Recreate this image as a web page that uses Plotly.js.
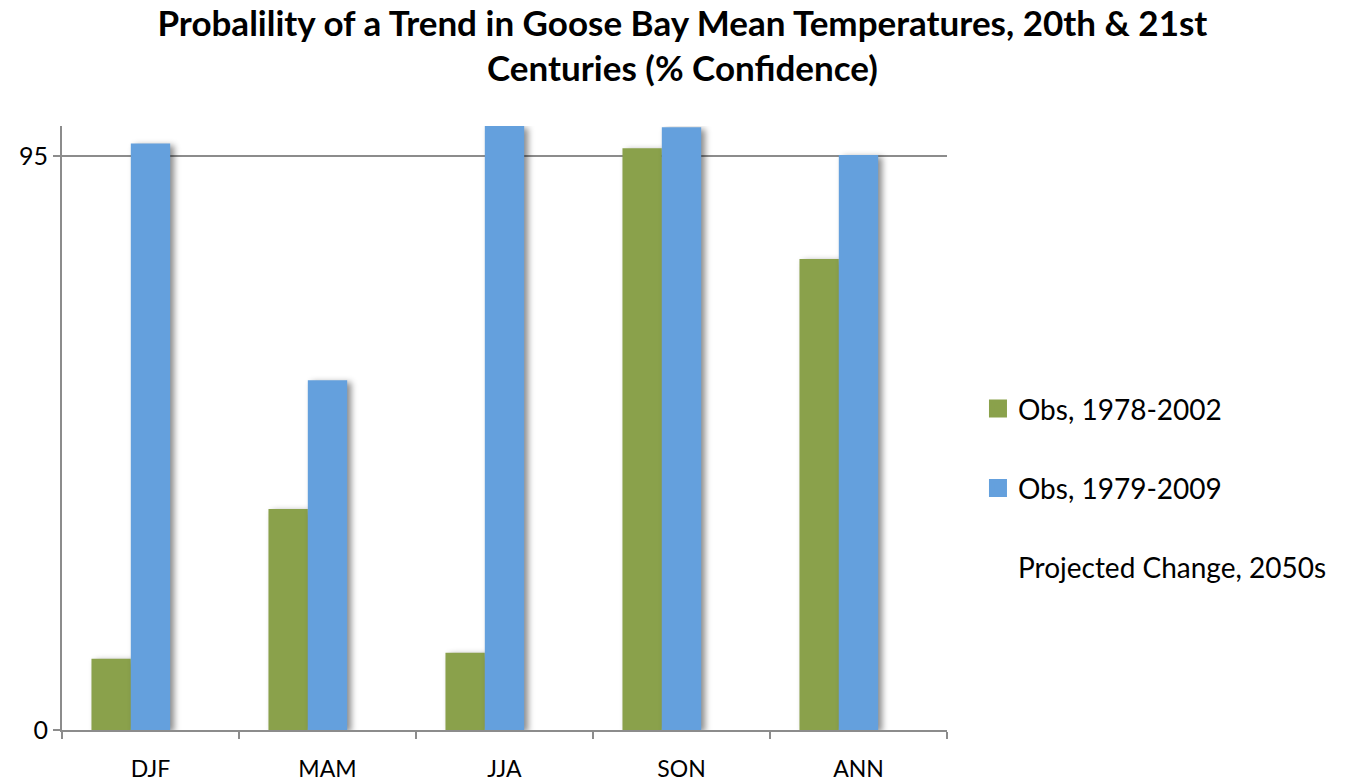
<!DOCTYPE html>
<html>
<head>
<meta charset="utf-8">
<script src="https://cdn.plot.ly/plotly-3.0.1.min.js"></script>
<style>
html,body{margin:0;padding:0;background:#fff;}
#chart{width:1346px;height:782px;}
.barlayer .point path{filter:drop-shadow(4px 2px 3px rgba(0,0,0,0.45));}
.legend .groups:nth-child(1) .legendpoints path{stroke:#8AA14B !important;stroke-width:6px !important;stroke-opacity:1 !important;}
.legend .groups:nth-child(2) .legendpoints path{stroke:#64A0DD !important;stroke-width:6px !important;stroke-opacity:1 !important;}
</style>
</head>
<body>
<div id="chart"></div>
<script>
const categories = ["DJF", "MAM", "JJA", "SON", "ANN"];
const obs1978_2002 = [11.8, 36.6, 12.8, 96.3, 78.0];
const obs1979_2009 = [97.1, 57.9, 100, 99.8, 95.2];
const projected2050s = [null, null, null, null, null];
const seriesNames = ["Obs, 1978-2002", "Obs, 1979-2009", "Projected Change, 2050s"];
const yTickVals = [0, 95];
const yTickText = ["0", "95"];

const font = "Lato, 'Open Sans', sans-serif";

const traces = [
  {type: "bar", x: categories, y: obs1978_2002, name: seriesNames[0], legendgroup: "a",
   marker: {color: "#8AA14B", line: {width: 0}}},
  {type: "bar", x: categories, y: obs1979_2009, name: seriesNames[1], legendgroup: "b",
   marker: {color: "#64A0DD", line: {width: 0}}},
  {type: "bar", x: categories, y: projected2050s, name: seriesNames[2], legendgroup: "c",
   marker: {color: "rgba(0,0,0,0)", line: {width: 0}}}
];

const layout = {
  width: 1346, height: 782,
  paper_bgcolor: "#fff", plot_bgcolor: "#fff",
  margin: {l: 62, r: 399, t: 126, b: 52},
  barmode: "group", bargap: 0.333, bargroupgap: 0,
  title: {
    text: "<b>Probalility of a Trend in Goose Bay Mean Temperatures, 20th & 21st<br>Centuries (% Confidence)</b>",
    font: {family: font, size: 35, color: "#000"},
    x: 0.507, xref: "container", xanchor: "center",
    y: 0.954, yref: "container", yanchor: "middle"
  },
  xaxis: {
    type: "category",
    showline: true, linecolor: "#8c8c8c", linewidth: 2,
    ticks: "outside", tickson: "boundaries", ticklen: 7, tickwidth: 2, tickcolor: "#8c8c8c",
    tickfont: {family: font, size: 23, color: "#000"},
    ticklabelstandoff: 17,
    showgrid: false, zeroline: false
  },
  yaxis: {
    range: [0, 100],
    tickvals: yTickVals, ticktext: yTickText,
    showline: true, linecolor: "#8c8c8c", linewidth: 2,
    ticks: "outside", ticklen: 7, tickwidth: 2, tickcolor: "#8c8c8c",
    tickfont: {family: font, size: 25, color: "#000"},
    showgrid: true, gridcolor: "#8c8c8c", gridwidth: 2,
    zeroline: false
  },
  legend: {
    x: 1.035, xref: "paper", xanchor: "left",
    y: 0.40, yanchor: "middle",
    font: {family: font, size: 28, color: "#000"},
    tracegroupgap: 40,
    itemwidth: 30,
    traceorder: "grouped",
    bgcolor: "rgba(0,0,0,0)"
  },
  showlegend: true
};

Plotly.newPlot("chart", traces, layout, {displayModeBar: false, staticPlot: true});
</script>
</body>
</html>
